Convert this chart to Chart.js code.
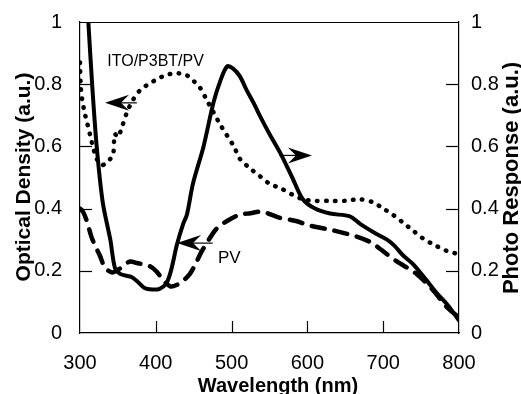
<!DOCTYPE html>
<html>
<head>
<meta charset="utf-8">
<script src="https://cdn.jsdelivr.net/npm/chart.js@4"></script>
<style>
  html, body { margin: 0; padding: 0; background: #fff; }
  #wrap { width: 521px; height: 394px; }
</style>
</head>
<body>
<div id="wrap"><canvas id="chart" width="521" height="394"></canvas></div>
<script>
// Фото-отклик (правая ось), сплошная линия
var prWave = [311, 316, 322, 330, 340, 346, 353, 360, 368, 376, 385, 395, 405, 414, 420, 428, 436, 441, 449, 463, 476, 485, 494, 502, 511, 520, 529, 537, 550, 564, 580, 594, 610, 630, 656, 670, 690, 705, 715, 726, 740, 757, 770, 785, 800];
var prValue = [1.0, 0.8, 0.6, 0.42, 0.3, 0.21, 0.19, 0.185, 0.18, 0.165, 0.145, 0.14, 0.142, 0.16, 0.2, 0.285, 0.35, 0.38, 0.48, 0.6, 0.74, 0.81, 0.857, 0.85, 0.825, 0.78, 0.74, 0.70, 0.64, 0.58, 0.5, 0.43, 0.40, 0.384, 0.375, 0.35, 0.32, 0.30, 0.28, 0.25, 0.22, 0.17, 0.13, 0.09, 0.04];

// Оптическая плотность ITO/P3BT/PV (левая ось), точки
var itoWave = [300, 301, 303, 306, 310, 314, 318, 322, 328, 334, 340, 344, 345, 346, 350, 355, 362, 370, 379, 390, 401, 414, 428, 440, 450, 458, 467, 476, 485, 494, 503, 511, 524, 537, 550, 565, 580, 594, 610, 630, 650, 669, 687, 700, 713, 726, 739, 752, 766, 783, 800];
var itoValue = [0.87, 0.79, 0.75, 0.71, 0.67, 0.63, 0.59, 0.56, 0.54, 0.545, 0.56, 0.58, 0.62, 0.64, 0.63, 0.66, 0.71, 0.75, 0.78, 0.80, 0.815, 0.83, 0.835, 0.83, 0.81, 0.79, 0.75, 0.71, 0.67, 0.635, 0.60, 0.56, 0.53, 0.505, 0.48, 0.465, 0.445, 0.43, 0.425, 0.425, 0.425, 0.43, 0.42, 0.40, 0.38, 0.355, 0.33, 0.305, 0.285, 0.265, 0.253];

// Оптическая плотность PV (левая ось), штрихи
var pvWave = [300, 304, 309, 315, 320, 326, 333, 342, 348, 357, 366, 375, 385, 392, 400, 410, 419, 428, 437, 445, 452, 460, 470, 480, 494, 510, 525, 540, 564, 585, 604, 634, 665, 685, 696, 718, 744, 766, 784, 800];
var pvValue = [0.40, 0.39, 0.36, 0.31, 0.28, 0.25, 0.21, 0.195, 0.2, 0.215, 0.23, 0.225, 0.22, 0.215, 0.2, 0.17, 0.15, 0.155, 0.17, 0.19, 0.22, 0.26, 0.30, 0.335, 0.36, 0.38, 0.385, 0.39, 0.37, 0.36, 0.345, 0.33, 0.31, 0.29, 0.27, 0.23, 0.19, 0.137, 0.083, 0.05];

var xTicks = [300, 400, 500, 600, 700, 800];
var yTicks = [0, 0.2, 0.4, 0.6, 0.8, 1];

function pts(xs, ys) {
    return xs.map(function (x, i) { return { x: x, y: ys[i] }; });
}

var FONT = "'Liberation Sans', Arial, Helvetica, sans-serif";

// Подписи и стрелки (в координатах данных)
var arrows = [
    { tipX: 333, tailX: 375, y: 0.74 },
    { tipX: 606, tailX: 563, y: 0.571 },
    { tipX: 428, tailX: 475, y: 0.289 }
];
var labels = [
    { text: 'ITO/P3BT/PV', x: 336, y: 0.857, size: 16 },
    { text: 'PV', x: 482, y: 0.225, size: 17 }
];

var decor = {
    id: 'decor',
    afterDraw: function (chart) {
        var c = chart.ctx, a = chart.chartArea;
        var xs = chart.scales.x, yl = chart.scales.y, yr = chart.scales.y2;
        c.save();
        c.strokeStyle = '#000';
        c.fillStyle = '#000';
        // рамка сверху
        c.lineWidth = 1;
        c.beginPath();
        c.moveTo(a.left, a.top + 0.5);
        c.lineTo(a.right, a.top + 0.5);
        c.stroke();
        // внутренние засечки
        c.lineWidth = 1.2;
        xTicks.forEach(function (t) {
            if (t === 300 || t === 800) return;
            var px = Math.round(xs.getPixelForValue(t)) + 0.5;
            c.beginPath(); c.moveTo(px, a.bottom); c.lineTo(px, a.bottom - 12); c.stroke();
        });
        yTicks.forEach(function (t) {
            if (t === 0 || t === 1) return;
            var py = Math.round(yl.getPixelForValue(t)) + 0.5;
            c.beginPath(); c.moveTo(a.left, py); c.lineTo(a.left + 12, py); c.stroke();
            py = Math.round(yr.getPixelForValue(t)) + 0.5;
            c.beginPath(); c.moveTo(a.right, py); c.lineTo(a.right - 13, py); c.stroke();
        });
        // стрелки
        arrows.forEach(function (ar) {
            var tx = xs.getPixelForValue(ar.tipX), bx = xs.getPixelForValue(ar.tailX);
            var py = yl.getPixelForValue(ar.y);
            var d = bx > tx ? 1 : -1;
            c.lineWidth = 1.2;
            c.beginPath(); c.moveTo(tx + d * 10, py); c.lineTo(bx, py); c.stroke();
            c.beginPath();
            c.moveTo(tx, py);
            c.lineTo(tx + d * 24, py - 8);
            c.lineTo(tx + d * 16, py);
            c.lineTo(tx + d * 24, py + 8);
            c.closePath();
            c.fill();
        });
        // подписи
        c.textAlign = 'left';
        c.textBaseline = 'alphabetic';
        labels.forEach(function (l) {
            c.font = l.size + 'px ' + FONT;
            c.fillText(l.text, xs.getPixelForValue(l.x), yl.getPixelForValue(l.y));
        });
        // названия осей
        c.font = 'bold 21px ' + FONT;
        c.textAlign = 'center';
        c.save();
        c.translate(30, 177);
        c.rotate(-Math.PI / 2);
        c.fillText('Optical Density (a.u.)', 0, 0);
        c.restore();
        c.save();
        c.font = 'bold 22px ' + FONT;
        c.translate(518, 178);
        c.rotate(-Math.PI / 2);
        c.fillText('Photo Response (a.u.)', 0, 0);
        c.restore();
        c.font = 'bold 20px ' + FONT;
        c.fillText('Wavelength (nm)', 278, 392);
        c.restore();
    }
};

var tickFont = { family: FONT, size: 20 };
function plainLabel(v) { return String(Math.round(v * 10) / 10); }

var ctx = document.getElementById('chart').getContext('2d');
var myChart = new Chart(ctx, {
    type: 'line',
    data: {
        datasets: [
            {
                label: 'Photo Response',
                data: pts(prWave, prValue),
                yAxisID: 'y2',
                borderColor: '#000',
                borderWidth: 4,
                borderCapStyle: 'round',
                borderJoinStyle: 'round',
                pointRadius: 0,
                tension: 0.3
            },
            {
                label: 'ITO/P3BT/PV',
                data: pts(itoWave, itoValue),
                yAxisID: 'y',
                borderColor: '#000',
                borderWidth: 4.5,
                borderDash: [0.5, 8.5],
                borderCapStyle: 'round',
                pointRadius: 0,
                tension: 0.3
            },
            {
                label: 'PV',
                data: pts(pvWave, pvValue),
                yAxisID: 'y',
                borderColor: '#000',
                borderWidth: 4.5,
                borderDash: [13, 10],
                borderCapStyle: 'round',
                pointRadius: 0,
                tension: 0.3
            }
        ]
    },
    options: {
        responsive: false,
        animation: false,
        layout: { padding: { top: 18, left: 0, right: 0, bottom: 0 } },
        plugins: { legend: { display: false }, tooltip: { enabled: false } },
        scales: {
            x: {
                type: 'linear',
                min: 300, max: 800,
                afterBuildTicks: function (s) { s.ticks = xTicks.map(function (v) { return { value: v }; }); },
                afterFit: function (s) { s.height = 61; },
                grid: { display: false },
                border: { display: true, color: '#000', width: 1.2 },
                ticks: { color: '#000', font: tickFont, padding: 10, maxRotation: 0 }
            },
            y: {
                position: 'left',
                min: 0, max: 1,
                afterBuildTicks: function (s) { s.ticks = yTicks.map(function (v) { return { value: v }; }); },
                afterFit: function (s) { s.width = 80; },
                grid: { display: false },
                border: { display: true, color: '#000', width: 1.2 },
                ticks: { color: '#000', font: tickFont, padding: 10, callback: plainLabel }
            },
            y2: {
                position: 'right',
                min: 0, max: 1,
                afterBuildTicks: function (s) { s.ticks = yTicks.map(function (v) { return { value: v }; }); },
                afterFit: function (s) { s.width = 62; },
                grid: { display: false },
                border: { display: true, color: '#000', width: 1.2 },
                ticks: { color: '#000', font: tickFont, padding: 4, callback: plainLabel }
            }
        }
    },
    plugins: [decor]
});
</script>
</body>
</html>
